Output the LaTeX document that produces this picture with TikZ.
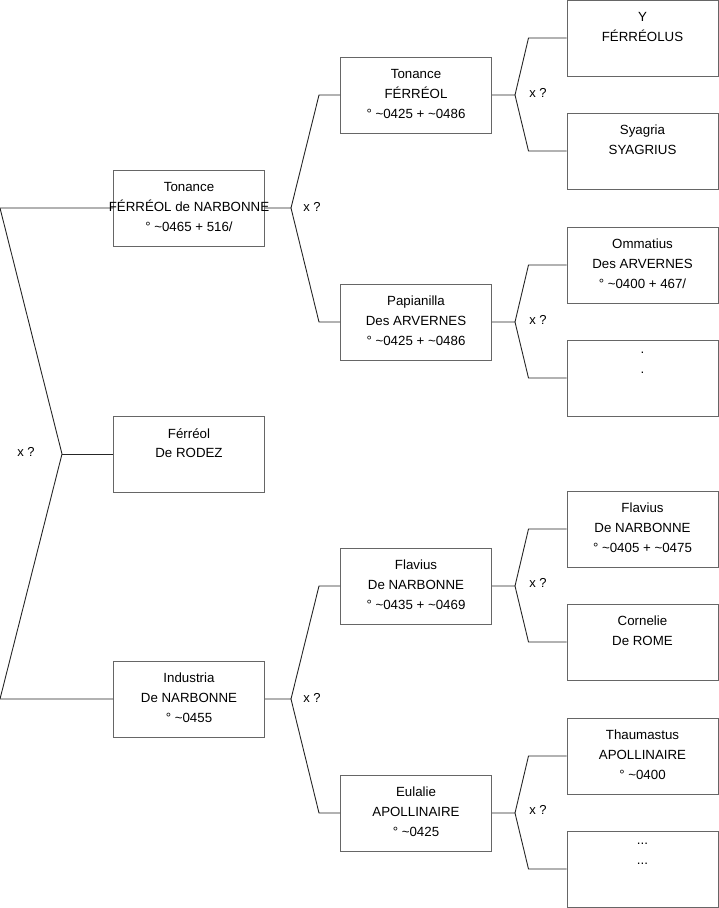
\documentclass[tikz,border=0pt]{standalone}
\usepackage{fontspec}
\setmainfont{Liberation Sans}
\begin{document}
\begin{tikzpicture}[x=1pt,y=-1pt,
  pbox/.style={draw=black!60, line width=1pt, minimum width=151pt, minimum height=76pt, inner sep=0pt, fill=white},
  ptext/.style={anchor=north, align=center, inner sep=0pt, font=\fontsize{13.3}{20}\selectfont, execute at begin node=\strut},
  conn/.style={draw=black!85, line width=0.9pt},
  qlab/.style={font=\fontsize{13}{15}\selectfont, inner sep=0pt}]
\useasboundingbox (0,0) rectangle (719,908);
\newcommand{\pbx}[4]{\node[pbox] (#1) at (#2,#3) {};}
\newcommand{\ptx}[2]{\node[ptext] at ([yshift=-12.5pt]#1.north) {#2};}
% boxes
\pbx{A}{189}{208}{} \pbx{B}{189}{454}{} \pbx{C}{189}{699}{}
\pbx{D}{416}{95}{} \pbx{E}{416}{322}{} \pbx{F}{416}{586}{} \pbx{G}{416}{813}{}
\pbx{H}{642.5}{38}{} \pbx{I}{642.5}{151}{} \pbx{J}{642.5}{265}{} \pbx{K}{642.5}{378}{}
\pbx{L}{642.5}{529}{} \pbx{M}{642.5}{642}{} \pbx{N}{642.5}{756}{} \pbx{O}{642.5}{869}{}
% left fork
\coordinate (top0) at ([xshift=-113pt]A.west);
\coordinate (j0) at ([xshift=-51pt]B.west);
\coordinate (bot0) at ([xshift=-113pt]C.west);
\draw[conn] (A.west) -- (top0) -- (j0) -- (bot0) -- (C.west);
\draw[conn] (j0) -- (B.west);
\node[qlab] at (26,452) {x ?};
% second-level forks
\foreach \p/\a/\b/\ly in {A/D/E/207, C/F/G/698}{
  \coordinate (j\p) at ([xshift=26pt]\p.east);
  \draw[conn] (\p.east) -- (j\p) -- ([xshift=-21pt]\a.west) -- (\a.west);
  \draw[conn] (j\p) -- ([xshift=-21pt]\b.west) -- (\b.west);
  \node[qlab] at (312,\ly) {x ?};
}
% third-level forks
\foreach \p/\a/\b/\ly in {D/H/I/93, E/J/K/320, F/L/M/583, G/N/O/810}{
  \coordinate (j\p) at ([xshift=23pt]\p.east);
  \draw[conn] (\p.east) -- (j\p) -- ([xshift=-38pt]\a.west) -- (\a.west);
  \draw[conn] (j\p) -- ([xshift=-38pt]\b.west) -- (\b.west);
  \node[qlab] at (538,\ly) {x ?};
}
% texts
\ptx{A}{Tonance\\FÉRRÉOL de NARBONNE\\° \textasciitilde0465 + 516/}
\ptx{B}{Férréol\\De RODEZ}
\ptx{C}{Industria\\De NARBONNE\\° \textasciitilde0455}
\ptx{D}{Tonance\\FÉRRÉOL\\° \textasciitilde0425 + \textasciitilde0486}
\ptx{E}{Papianilla\\Des ARVERNES\\° \textasciitilde0425 + \textasciitilde0486}
\ptx{F}{Flavius\\De NARBONNE\\° \textasciitilde0435 + \textasciitilde0469}
\ptx{G}{Eulalie\\APOLLINAIRE\\° \textasciitilde0425}
\ptx{H}{Y\\FÉRRÉOLUS}
\ptx{I}{Syagria\\SYAGRIUS}
\ptx{J}{Ommatius\\Des ARVERNES\\° \textasciitilde0400 + 467/}
\ptx{K}{.\\.}
\ptx{L}{Flavius\\De NARBONNE\\° \textasciitilde0405 + \textasciitilde0475}
\ptx{M}{Cornelie\\De ROME}
\ptx{N}{Thaumastus\\APOLLINAIRE\\° \textasciitilde0400}
\ptx{O}{...\\...}
\end{tikzpicture}
\end{document}
